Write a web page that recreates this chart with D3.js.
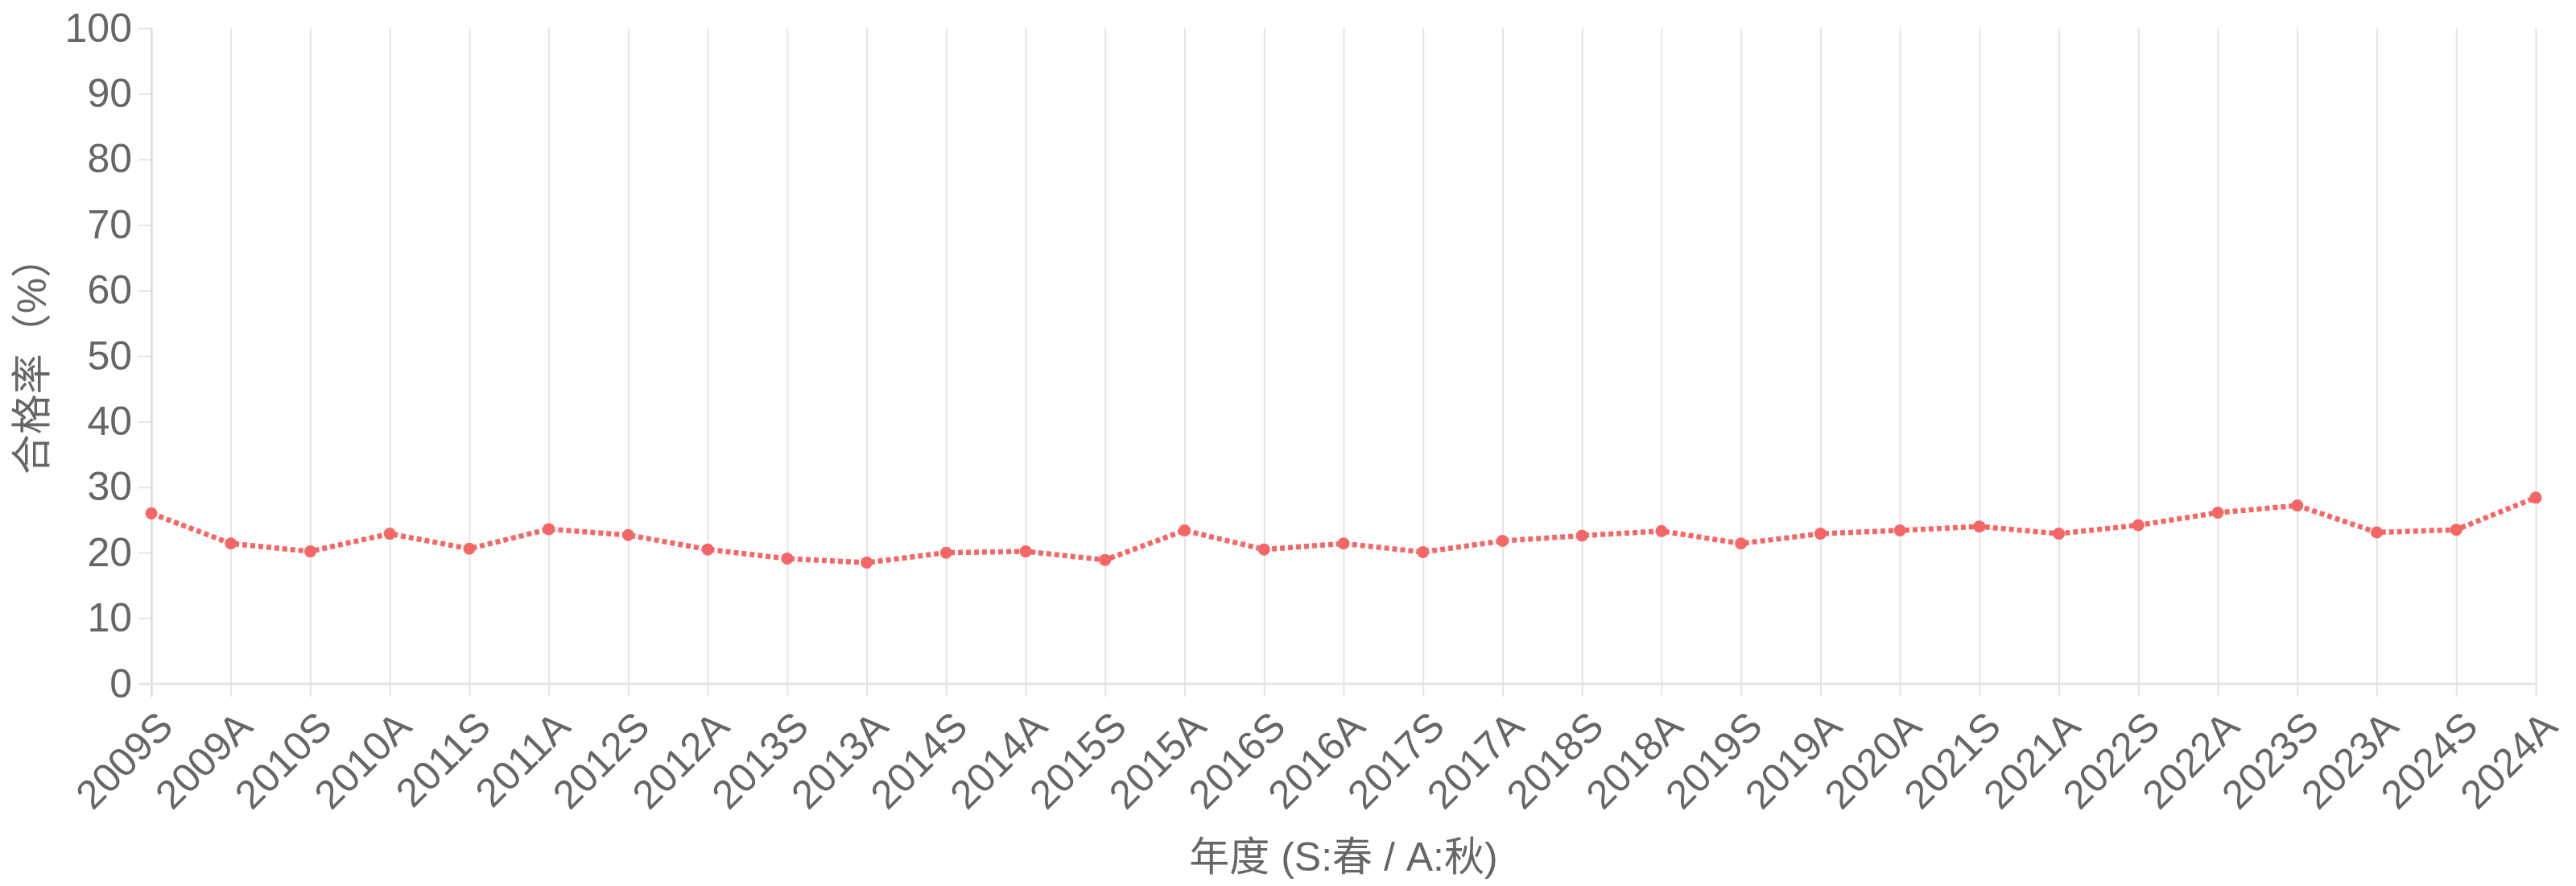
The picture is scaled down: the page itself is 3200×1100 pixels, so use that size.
<!DOCTYPE html>
<html lang="zh">

<head>
    <meta charset="UTF-8">
    <meta name="viewport" content="width=device-width, initial-scale=1.0">
    <title>合格率</title>
    <style>
        * {
            margin: 0;
            padding: 0;
        }

        html,
        body {
            overflow: hidden;
            background: #fff;
        }
    </style>
</head>

<body>
    <div id="chart"></div>
    <script src="https://cdn.jsdelivr.net/npm/d3@7"></script>
    <script>
        // 年度 (S:春 / A:秋)，2020S 没有
        const terms = ['2009S', '2009A', '2010S', '2010A', '2011S', '2011A', '2012S', '2012A',
            '2013S', '2013A', '2014S', '2014A', '2015S', '2015A', '2016S', '2016A',
            '2017S', '2017A', '2018S', '2018A', '2019S', '2019A', '2020A', '2021S',
            '2021A', '2022S', '2022A', '2023S', '2023A', '2024S', '2024A']

        // 合格率 (%)
        const passRates = [26.0, 21.4, 20.2, 22.9, 20.6, 23.6, 22.7, 20.5,
            19.1, 18.5, 20.0, 20.2, 18.9, 23.4, 20.5, 21.4,
            20.1, 21.8, 22.6, 23.3, 21.4, 22.9, 23.4, 24.0,
            22.9, 24.2, 26.1, 27.2, 23.1, 23.5, 28.4]

        const yTicks = [0, 10, 20, 30, 40, 50, 60, 70, 80, 90, 100]

        function drawChart() {
            const width = 3200
            const height = 1100
            const margin = { top: 35, right: 50, bottom: 251, left: 188 }
            const tickLen = 16
            const fontFamily = '"Liberation Sans", Arial, "Noto Sans CJK SC", sans-serif'
            const textColor = '#666'
            const gridColor = '#e5e5e5'
            const lineColor = '#f56767'

            const svg = d3.select('#chart')
                .append('svg')
                .attr('width', width)
                .attr('height', height)
                .style('background-color', '#fff')
                .style('font-family', fontFamily)

            const x = d3.scalePoint()
                .domain(terms)
                .range([margin.left, width - margin.right])

            const y = d3.scaleLinear()
                .domain([0, 100])
                .range([height - margin.bottom, margin.top])

            const data = terms.map((t, i) => ({ term: t, value: passRates[i] }))

            // 竖向网格线 + x 轴刻度
            const xAxis = svg.append('g')
                .attr('transform', `translate(0, ${y(0)})`)
                .call(d3.axisBottom(x).tickSize(tickLen).tickSizeOuter(0).tickPadding(0).tickFormat(''))
            xAxis.select('.domain').remove()
            xAxis.selectAll('.tick line')
                .attr('y1', y(100) - y(0))
                .attr('stroke', (d, i) => i === 0 ? '#d2d2d2' : gridColor)
                .attr('stroke-width', 2)

            xAxis.selectAll('.tick')
                .append('text')
                .attr('transform', `translate(17, ${tickLen + 28}) rotate(-45)`)
                .attr('text-anchor', 'end')
                .attr('dominant-baseline', 'central')
                .attr('fill', textColor)
                .style('font-size', '50px')
                .text(d => d)

            // y 轴
            const yAxis = svg.append('g')
                .attr('transform', `translate(${margin.left}, 0)`)
                .call(d3.axisLeft(y).tickValues(yTicks).tickSize(tickLen).tickSizeOuter(0).tickPadding(8))
            yAxis.select('.domain').remove()
            yAxis.selectAll('.tick line')
                .attr('stroke', gridColor)
                .attr('stroke-width', 2)
            yAxis.selectAll('.tick text')
                .attr('fill', textColor)
                .style('font-size', '50px')
                .style('font-family', fontFamily)

            // 0 基线
            svg.append('line')
                .attr('x1', margin.left - tickLen)
                .attr('x2', width - margin.right)
                .attr('y1', y(0))
                .attr('y2', y(0))
                .attr('stroke', gridColor)
                .attr('stroke-width', 3)

            // 折线
            const line = d3.line()
                .x(d => x(d.term))
                .y(d => y(d.value))

            svg.append('path')
                .datum(data)
                .attr('d', line)
                .attr('fill', 'none')
                .attr('stroke', lineColor)
                .attr('stroke-width', 6.5)
                .attr('stroke-dasharray', '6 4')

            svg.append('g')
                .selectAll('circle')
                .data(data)
                .join('circle')
                .attr('cx', d => x(d.term))
                .attr('cy', d => y(d.value))
                .attr('r', 7.5)
                .attr('fill', lineColor)

            // 轴标题
            svg.append('text')
                .attr('x', (margin.left + width - margin.right) / 2)
                .attr('y', 1081)
                .attr('text-anchor', 'middle')
                .attr('fill', textColor)
                .style('font-size', '50px')
                .text('年度 (S:春 / A:秋)')

            svg.append('text')
                .attr('transform', `translate(40, ${(y(0) + y(100)) / 2}) rotate(-90)`)
                .attr('text-anchor', 'middle')
                .attr('dominant-baseline', 'central')
                .attr('fill', textColor)
                .style('font-size', '50px')
                .text('合格率（%）')
        }

        drawChart()
    </script>
</body>

</html>
